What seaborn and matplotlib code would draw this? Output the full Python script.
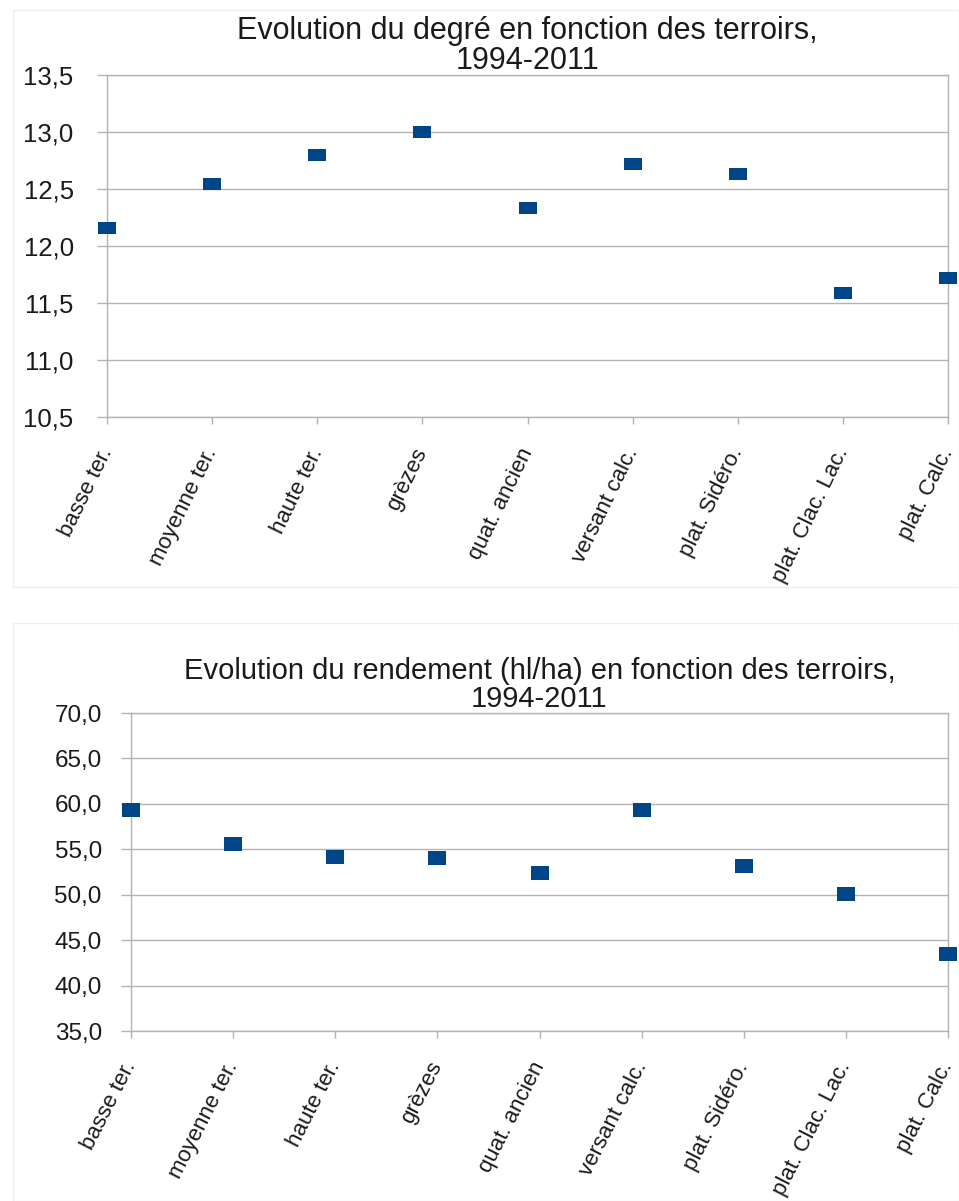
"""
Degré et rendement moyens par terroir, 1994-2011
"""

import matplotlib
matplotlib.use('Agg')
import matplotlib.pyplot as plt
from matplotlib.ticker import FuncFormatter, MultipleLocator
from matplotlib.patches import Rectangle
import pandas as pd
import seaborn as sns

# données
terroirs = ['basse ter.', 'moyenne ter.', 'haute ter.', 'grèzes', 'quat. ancien',
            'versant calc.', 'plat. Sidéro.', 'plat. Clac. Lac.', 'plat. Calc.']
degre = [12.16, 12.54, 12.80, 13.00, 12.33, 12.72, 12.63, 11.59, 11.72]
rendement = [59.3, 55.6, 54.2, 54.0, 52.4, 59.3, 53.2, 50.1, 43.5]

titre_degre = 'Evolution du degré en fonction des terroirs,\n1994-2011'
titre_rendement = 'Evolution du rendement (hl/ha) en fonction des terroirs,\n1994-2011'

BLEU = '#004586'
GRIS = '#b3b3b3'

sns.set_theme(style='white')
plt.rcParams['font.family'] = ['Liberation Sans', 'DejaVu Sans']

fig = plt.figure(figsize=(9.59, 12.01), dpi=100)

# cadres très clairs autour des deux graphiques
for y0, h in [(1 - 587 / 1201, 577 / 1201), (0.0, 578 / 1201)]:
    fig.patches.append(Rectangle((13 / 959, y0), 1 - 13 / 959, h, transform=fig.transFigure,
                                 fill=False, edgecolor='#efefef', lw=1))

ax1 = fig.add_axes([0.1116, 0.6528, 0.877, 0.2848])
ax2 = fig.add_axes([0.1366, 0.1415, 0.852, 0.2648])


def trace(ax, valeurs, titre, ymin, ymax, pas, h_marq, rot, t_titre, t_y, pad_y):
    df = pd.DataFrame({'terroir': terroirs, 'valeur': valeurs})
    df['pos'] = range(len(terroirs))
    marq = [(-1, -h_marq), (1, -h_marq), (1, h_marq), (-1, h_marq)]
    sns.scatterplot(data=df, x='pos', y='valeur', ax=ax, marker=marq, s=168,
                    color=BLEU, linewidth=0, clip_on=False, zorder=5)
    ax.set_xlim(0, len(terroirs) - 1)
    ax.set_ylim(ymin, ymax)
    ax.yaxis.set_major_locator(MultipleLocator(pas))
    ax.yaxis.set_major_formatter(FuncFormatter(lambda v, p: f'{v:.1f}'.replace('.', ',')))
    ax.set_xticks(df['pos'])
    ax.set_xticklabels(terroirs, rotation=rot, ha='right', va='center',
                       rotation_mode='anchor', fontsize=16)
    ax.tick_params(axis='y', labelsize=t_y, length=7, color=GRIS, width=1, pad=pad_y, left=True,
                   labelcolor='#1a1a1a')
    ax.tick_params(axis='x', length=5, color=GRIS, width=1, pad=18, bottom=True,
                   labelcolor='#1a1a1a')
    ax.grid(axis='y', color=GRIS, lw=1)
    ax.set_axisbelow(True)
    for sp in ax.spines.values():
        sp.set_color(GRIS)
        sp.set_linewidth(1)
        sp.set_visible(True)
    ax.set_xlabel('')
    ax.set_ylabel('')
    ax.set_title(titre, fontsize=t_titre, pad=4, linespacing=1.0, color='#1a1a1a')


trace(ax1, degre, titre_degre, 10.5, 13.5, 0.5, 0.62, 64, 22, 18.5, 17)
trace(ax2, rendement, titre_rendement, 35, 70, 5, 0.8, 63, 21, 17.5, 14)

fig.savefig('out.png', dpi=100)
